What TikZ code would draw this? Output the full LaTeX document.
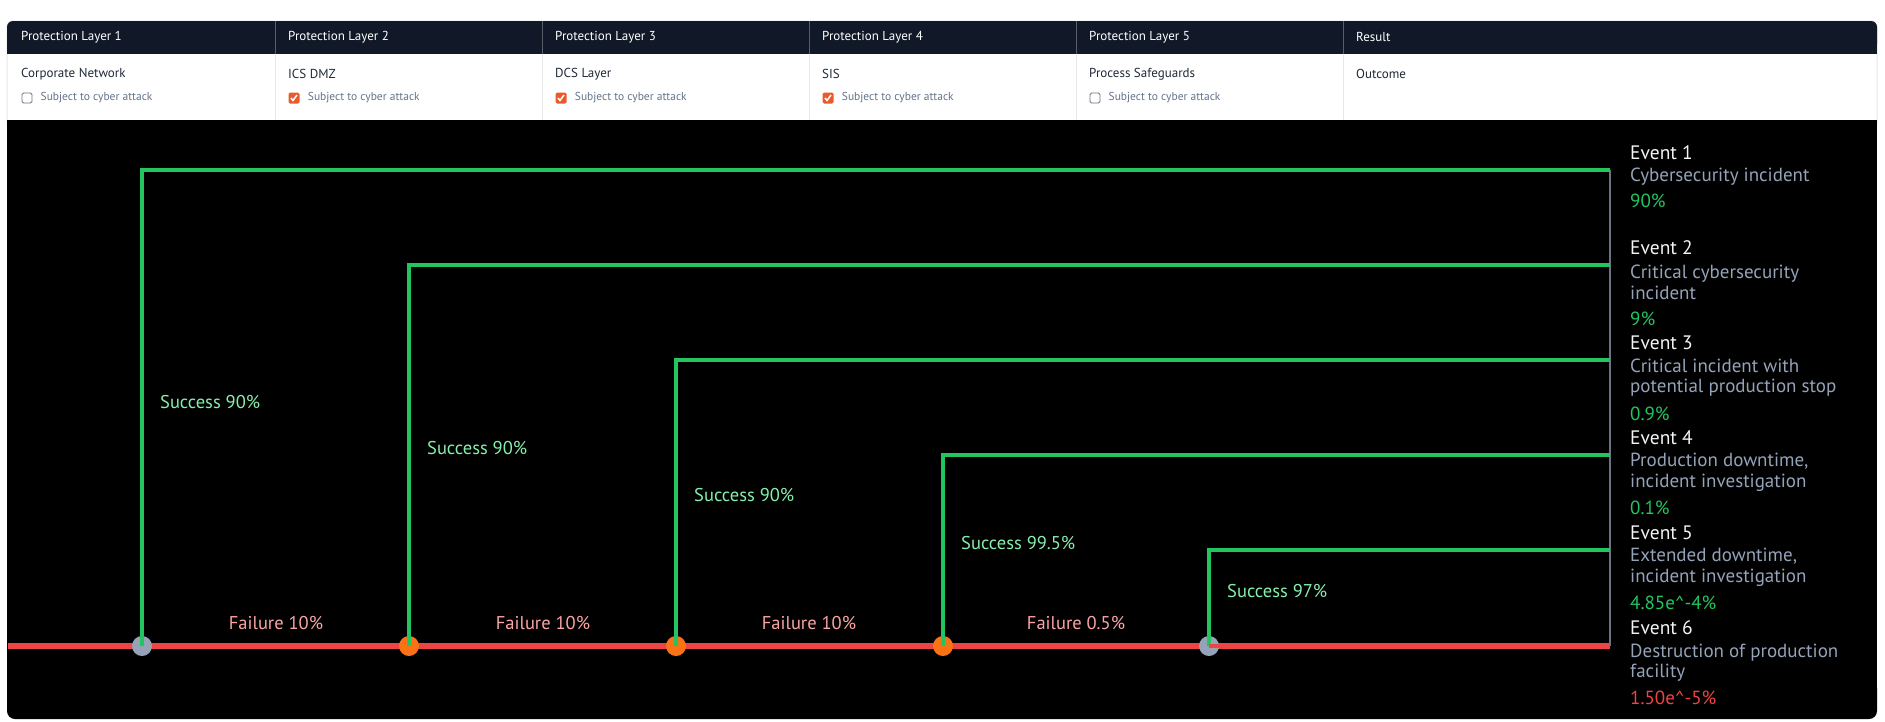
\documentclass[tikz,border=0pt]{standalone}
\usepackage{fontspec}
\setmainfont{PT Sans}
\usetikzlibrary{positioning}
\definecolor{hdrbg}{HTML}{111827}
\definecolor{rowtxt}{HTML}{1F2937}
\definecolor{subtxt}{HTML}{64748B}
\definecolor{sepline}{HTML}{E5E7EB}
\definecolor{okgreen}{HTML}{22C55E}
\definecolor{okfaint}{HTML}{86EFAC}
\definecolor{badred}{HTML}{EF4444}
\definecolor{badfaint}{HTML}{FCA5A5}
\definecolor{slate}{HTML}{94A3B8}
\definecolor{trunkgray}{HTML}{6B7280}
\definecolor{hot}{HTML}{F97316}
\definecolor{tick}{HTML}{EA5A2A}
\definecolor{evwhite}{HTML}{F3F4F6}

\tikzset{
  hdrtext/.style={anchor=west,text=white,inner sep=0pt,font=\fontsize{13}{15}\selectfont},
  rowtext/.style={anchor=west,text=rowtxt,inner sep=0pt,font=\fontsize{13}{15}\selectfont},
  subtext/.style={anchor=west,text=subtxt,inner sep=0pt,font=\fontsize{11.5}{13}\selectfont},
  boxoff/.style={draw=trunkgray,fill=white,line width=0.9pt,rounded corners=1.5pt,minimum size=10pt,inner sep=0pt},
  boxon/.style={fill=tick,rounded corners=1.5pt,minimum size=11pt,inner sep=0pt},
  success/.style={draw=okgreen,line width=4.5pt},
  failure/.style={draw=badred,line width=6pt},
  trunk/.style={draw=trunkgray,line width=2pt},
  dotoff/.style={circle,fill=slate,minimum size=20pt,inner sep=0pt},
  doton/.style={circle,fill=hot,minimum size=20pt,inner sep=0pt},
  oklabel/.style={anchor=west,text=okfaint,inner sep=0pt,font=\fontsize{18.5}{21}\selectfont},
  badlabel/.style={text=badfaint,inner sep=0pt,font=\fontsize{18.5}{21}\selectfont},
  evtitle/.style={anchor=west,text=evwhite,inner sep=0pt,font=\fontsize{19.5}{22}\selectfont},
  evdesc/.style={anchor=west,align=left,text=slate,inner sep=0pt,font=\fontsize{19}{20.5}\selectfont},
  evok/.style={anchor=west,text=okgreen,inner sep=0pt,font=\fontsize{19}{21}\selectfont},
  evbad/.style={anchor=west,text=badred,inner sep=0pt,font=\fontsize{19}{21}\selectfont},
}

\begin{document}
\begin{tikzpicture}[x=1pt,y=-1pt]
        \useasboundingbox (0,0) rectangle (1885,721);
        \fill[white] (0,0) rectangle (1885,721);
        %
        % table head
        \filldraw[fill=white,draw=sepline,line width=1pt,rounded corners=6pt] (7,21) rectangle (1877,130);
        \fill[hdrbg,rounded corners=6pt] (7,21) rectangle (1877,50);
        \fill[hdrbg] (7,40) rectangle (1877,54);
        \draw[sepline,line width=1pt] (275,54) -- (275,120);
        \draw[sepline,line width=1pt] (542,54) -- (542,120);
        \draw[sepline,line width=1pt] (809,54) -- (809,120);
        \draw[sepline,line width=1pt] (1076,54) -- (1076,120);
        \draw[sepline,line width=1pt] (1343,54) -- (1343,120);
        \draw[hdrbg!70!white,line width=0.6pt] (275,21) -- (275,54);
        \draw[hdrbg!70!white,line width=0.6pt] (542,21) -- (542,54);
        \draw[hdrbg!70!white,line width=0.6pt] (809,21) -- (809,54);
        \draw[hdrbg!70!white,line width=0.6pt] (1076,21) -- (1076,54);
        \draw[hdrbg!70!white,line width=0.6pt] (1343,21) -- (1343,54);
        %
        \node[hdrtext] (h1) at (21,37) {Protection Layer 1};
        \node[hdrtext] (h2) at (288,37) {Protection Layer 2};
        \node[hdrtext] (h3) at (555,37) {Protection Layer 3};
        \node[hdrtext] (h4) at (822,37) {Protection Layer 4};
        \node[hdrtext] (h5) at (1089,37) {Protection Layer 5};
        \node[hdrtext] (h6) at (1356,37) {Result};
        %
        \node[rowtext] (l1) at (21,74) {Corporate Network};
        \node[rowtext] (l2) at (288,74) {ICS DMZ};
        \node[rowtext] (l3) at (555,74) {DCS Layer};
        \node[rowtext] (l4) at (822,74) {SIS};
        \node[rowtext] (l5) at (1089,74) {Process Safeguards};
        \node[rowtext] (l6) at (1356,74) {Outcome};
        %
        \node[boxoff] (cb1) at (27,98) {};
        \node[boxon] (cb2) at (294,98) {};
        \node[boxon] (cb3) at (561,98) {};
        \node[boxon] (cb4) at (828,98) {};
        \node[boxoff] (cb5) at (1095,98) {};
        \draw[white,line width=1.5pt] (cb2.center) ++(-3,0) -- ++(2,2.5) -- ++(4,-5.5);
        \draw[white,line width=1.5pt] (cb3.center) ++(-3,0) -- ++(2,2.5) -- ++(4,-5.5);
        \draw[white,line width=1.5pt] (cb4.center) ++(-3,0) -- ++(2,2.5) -- ++(4,-5.5);
        \node[subtext,right=8pt of cb1] (a1) {Subject to cyber attack};
        \node[subtext,right=8pt of cb2] (a2) {Subject to cyber attack};
        \node[subtext,right=8pt of cb3] (a3) {Subject to cyber attack};
        \node[subtext,right=8pt of cb4] (a4) {Subject to cyber attack};
        \node[subtext,right=8pt of cb5] (a5) {Subject to cyber attack};
        %
        % event tree
        \fill[black] (7,120) rectangle (1877,700);
        \fill[black,rounded corners=8pt] (7,680) rectangle (1877,719);
        %
        \coordinate (s0) at (8,646);
        \coordinate (r1) at (1610,170);
        \coordinate (r2) at (1610,265);
        \coordinate (r3) at (1610,360);
        \coordinate (r4) at (1610,455);
        \coordinate (r5) at (1610,550);
        \coordinate (r6) at (1610,646);
        %
        \draw[failure] (s0) -- (r6);
        \draw[trunk] (r1) -- (r6);
        %
        \node[dotoff] (d1) at (142,646) {};
        \node[doton] (d2) at (409,646) {};
        \node[doton] (d3) at (676,646) {};
        \node[doton] (d4) at (943,646) {};
        \node[dotoff] (d5) at (1209,646) {};
        %
        \draw[success] (d1.center) |- (r1);
        \draw[success] (d2.center) |- (r2);
        \draw[success] (d3.center) |- (r3);
        \draw[success] (d4.center) |- (r4);
        \draw[success] (d5.center) |- (r5);
        \draw[draw=badred,line width=4pt] (d5.center) -- (r6);
        %
        \node[oklabel] (p1) at (160,402) {Success 90\%};
        \node[oklabel] (p2) at (427,448) {Success 90\%};
        \node[oklabel] (p3) at (694,495) {Success 90\%};
        \node[oklabel] (p4) at (961,543) {Success 99.5\%};
        \node[oklabel] (p5) at (1227,591) {Success 97\%};
        %
        \node[badlabel] (f1) at (276,623) {Failure 10\%};
        \node[badlabel] (f2) at (543,623) {Failure 10\%};
        \node[badlabel] (f3) at (809,623) {Failure 10\%};
        \node[badlabel] (f4) at (1076,623) {Failure 0.5\%};
        %
        % outcomes
        \node[evtitle] (e1) at (1630,153) {Event 1};
        \node[evdesc] (e1d) at (1630,177) {Cybersecurity incident};
        \node[evok] (e1p) at (1630,201) {90\%};
        \node[evtitle] (e2) at (1630,248) {Event 2};
        \node[evdesc] (e2d) at (1630,282.5) {Critical cybersecurity\\incident};
        \node[evok] (e2p) at (1630,319) {9\%};
        \node[evtitle] (e3) at (1630,343) {Event 3};
        \node[evdesc] (e3d) at (1630,377.5) {Critical incident with\\potential production stop};
        \node[evok] (e3p) at (1630,414) {0.9\%};
        \node[evtitle] (e4) at (1630,438) {Event 4};
        \node[evdesc] (e4d) at (1630,472.5) {Production downtime,\\incident investigation};
        \node[evok] (e4p) at (1630,508) {0.1\%};
        \node[evtitle] (e5) at (1630,533) {Event 5};
        \node[evdesc] (e5d) at (1630,567.5) {Extended downtime,\\incident investigation};
        \node[evok] (e5p) at (1630,603) {4.85e\^{}-4\%};
        \node[evtitle] (e6) at (1630,628) {Event 6};
        \node[evdesc] (e6d) at (1630,662.5) {Destruction of production\\facility};
        \node[evbad] (e6p) at (1630,698) {1.50e\^{}-5\%};
\end{tikzpicture}
\end{document}
